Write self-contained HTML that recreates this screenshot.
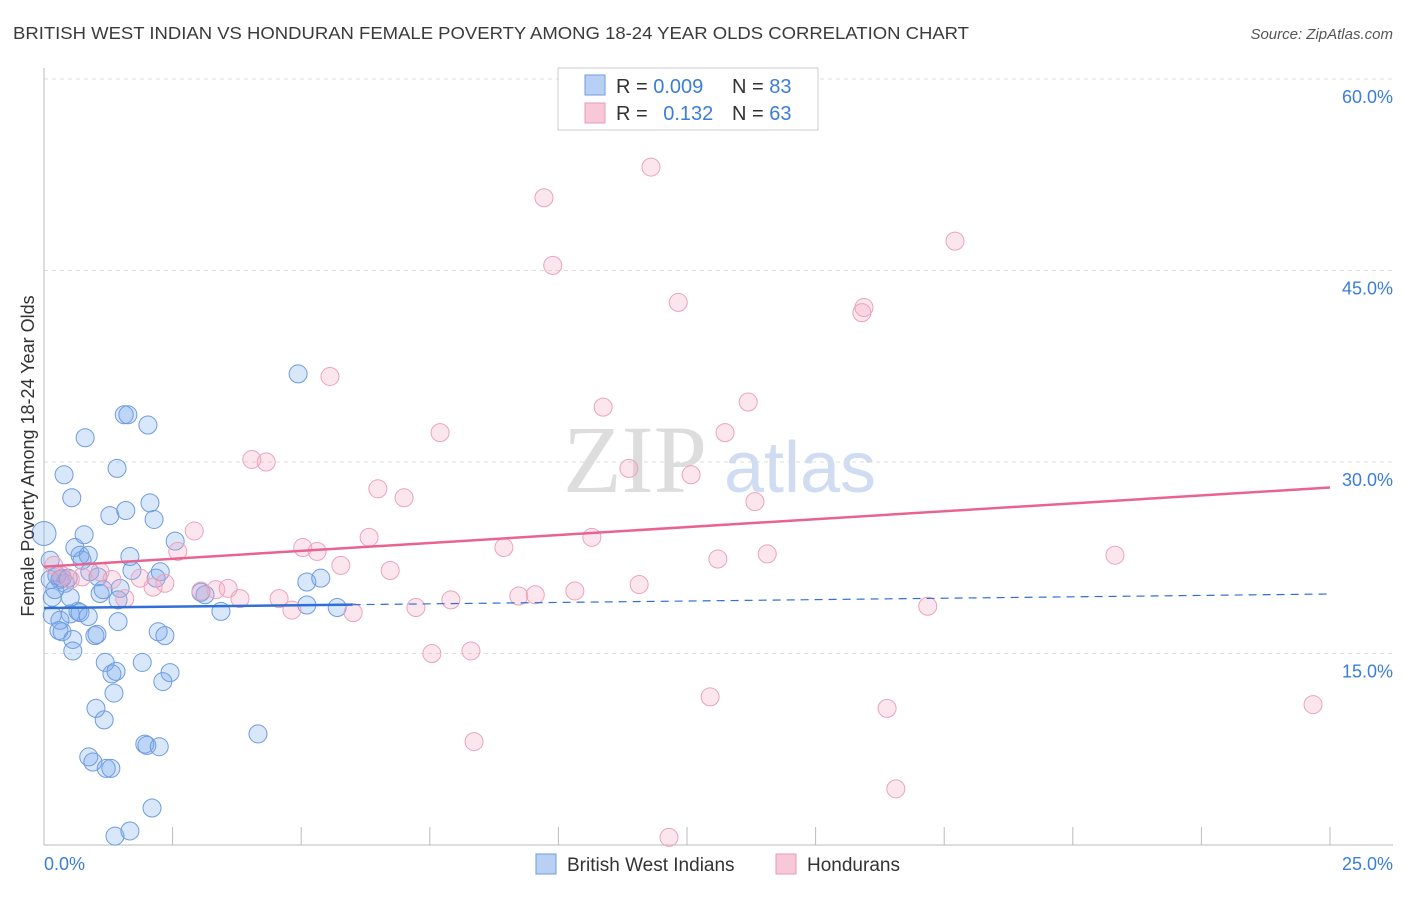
<!DOCTYPE html>
<html><head><meta charset="utf-8"><style>
body{margin:0;background:#fff;font-family:"Liberation Sans",sans-serif;}
svg text{font-family:"Liberation Sans",sans-serif;}
</style></head><body>
<svg id="chart" width="1406" height="892" viewBox="0 0 1406 892">
<text x="13" y="39" font-size="17.5" fill="#3a3a3a" textLength="956" lengthAdjust="spacingAndGlyphs">BRITISH WEST INDIAN VS HONDURAN FEMALE POVERTY AMONG 18-24 YEAR OLDS CORRELATION CHART</text>
<text x="1393" y="39" font-size="15" fill="#555" font-style="italic" text-anchor="end">Source: ZipAtlas.com</text>
<g>
<text x="635" y="492" font-size="96" fill="#ddd" text-anchor="middle" font-family="Liberation Serif" style="font-family:'Liberation Serif',serif">ZIP</text>
<text x="800" y="492" font-size="72" fill="#cfdcf2" text-anchor="middle">atlas</text>
</g>
<g id="grid"></g>
<g id="axes"></g>
<g id="marks"></g>
<text transform="translate(34,456) rotate(-90)" font-size="18" fill="#333" text-anchor="middle">Female Poverty Among 18-24 Year Olds</text>
<g>
<rect x="558" y="68" width="260" height="62" fill="#fff" stroke="#ccc"/>
<rect x="585" y="75" width="20" height="20" fill="#b8d0f4" stroke="#6f9be0"/>
<text x="616" y="93" font-size="20" fill="#333">R = <tspan fill="#3b7dd8">0.009</tspan></text>
<text x="732" y="93" font-size="20" fill="#333">N = <tspan fill="#3b7dd8">83</tspan></text>
<rect x="585" y="103" width="20" height="20" fill="#f8c8d8" stroke="#e89ab4"/>
<text x="616" y="120" font-size="20" fill="#333">R = <tspan fill="#3b7dd8" dx="10">0.132</tspan></text>
<text x="732" y="120" font-size="20" fill="#333">N = <tspan fill="#3b7dd8">63</tspan></text>
</g>
<g>
<rect x="536" y="854" width="20" height="20" fill="#b8d0f4" stroke="#6f9be0"/>
<text x="567" y="871" font-size="19" fill="#333">British West Indians</text>
<rect x="776" y="854" width="20" height="20" fill="#f8c8d8" stroke="#e89ab4"/>
<text x="807" y="871" font-size="19" fill="#333">Hondurans</text>
</g>
</svg>
<script>
const blueX=[0,0.12,0.12,0.16,0.21,0.25,0.31,0.35,0.41,0.47,0.39,0.54,0.80,0.78,0.60,0.70,0.86,0.74,0.89,1.05,1.09,1.15,0.51,0.66,0.51,0.70,0.86,0.99,1.03,0.29,0.35,0.56,0.56,0.16,0.31,1.28,1.59,1.42,1.56,1.63,2.02,2.06,2.14,1.67,1.71,1.48,1.44,1.44,2.26,2.18,2.55,3.05,3.44,2.22,2.35,1.19,1.32,1.40,1.36,1.01,1.17,1.91,2.45,2.31,0.87,0.95,1.21,1.30,1.96,2.00,2.24,2.10,1.38,1.67,4.16,4.94,5.11,5.38,5.11,5.70,3.13];
const blueY=[24.4,22.3,20.8,19.4,20.0,21.1,20.8,20.9,20.5,20.9,29.0,27.2,31.9,24.3,23.3,22.7,22.7,22.3,21.4,21.0,19.7,20.0,19.4,18.3,18.1,18.2,17.9,16.4,16.5,16.8,16.7,16.1,15.2,18.0,17.6,25.8,26.2,29.5,33.7,33.7,32.9,26.8,25.5,22.6,21.5,20.1,19.2,17.5,21.4,20.9,23.8,19.8,18.3,16.7,16.4,14.3,13.4,13.6,11.9,10.7,9.8,14.3,13.5,12.8,6.9,6.5,6.0,6.0,7.9,7.8,7.7,2.9,0.7,1.1,8.7,36.9,20.6,20.9,18.8,18.6,19.6];
const pinkX=[11.80,9.72,9.89,17.71,12.33,15.94,15.90,5.56,10.87,13.69,7.70,13.24,4.04,4.32,6.49,7.00,11.37,12.58,13.82,2.92,2.60,5.03,5.31,5.77,6.32,6.73,8.94,10.65,14.06,13.10,20.82,0.19,0.35,0.51,0.74,1.09,1.32,1.87,2.12,2.35,3.05,3.34,3.58,3.81,4.57,4.82,6.01,7.23,7.91,9.23,9.55,10.32,11.57,17.18,7.54,8.30,12.95,16.39,24.67,8.36,16.56,12.15,1.57];
const pinkY=[53.1,50.7,45.4,47.3,42.5,42.1,41.7,36.7,34.3,34.7,32.3,32.3,30.2,30.0,27.9,27.2,29.5,29.0,26.9,24.6,23.0,23.3,23.0,21.9,24.1,21.5,23.3,24.1,22.8,22.4,22.7,21.9,21.1,20.8,21.0,21.4,20.8,20.9,20.2,20.5,19.9,20.0,20.1,19.3,19.3,18.4,18.2,18.6,19.2,19.5,19.6,19.9,20.4,18.7,15.0,15.2,11.6,10.7,11.0,8.1,4.4,0.6,19.3];
const blueTrend=[18.56,19.66];
const pinkTrend=[21.8,28.0];
const yTicks=[15,30,45,60];
const NS="http://www.w3.org/2000/svg";
const X0=44,X1=1330,Y0=845,Y1=79;
function sx(v){return X0+(X1-X0)*v/25;}
function sy(v){return Y0-(Y0-Y1)*v/60;}
function mk(t,a,p){const e=document.createElementNS(NS,t);for(const k in a)e.setAttribute(k,a[k]);p.appendChild(e);return e;}
const grid=document.getElementById('grid'),axes=document.getElementById('axes'),marks=document.getElementById('marks');
yTicks.forEach(t=>{
const l=mk('line',{x1:X0,x2:1393,y1:sy(t),y2:sy(t),stroke:'#ddd','stroke-dasharray':'4,4'},grid);


const tx=mk('text',{x:1393,y:sy(t)+24,'font-size':18,fill:'#3b7dd8','text-anchor':'end'},axes);
tx.textContent=t.toFixed(1)+'%';


});
const ax=mk('line',{x1:X0,x2:X0,y1:68,y2:Y0,stroke:'#bbb'},axes);


const bx=mk('line',{x1:X0,x2:1393,y1:Y0,y2:Y0,stroke:'#bbb'},axes);


for(let i=1;i<=10;i++){
const t=mk('line',{x1:sx(i*2.5),x2:sx(i*2.5),y1:Y0-18,y2:Y0,stroke:'#bbb'},axes);


}
[[0,X0,'start'],[25,1393,'end']].forEach(d=>{
const t=mk('text',{x:d[1],y:870,'font-size':18,fill:'#3b7dd8','text-anchor':d[2]},axes);
t.textContent=d[0].toFixed(1)+'%';


});
blueX.forEach((v,i)=>{
const c=mk('circle',{cx:sx(v),cy:sy(blueY[i]),r:i===0?12:9,fill:'rgba(120,168,238,0.28)',stroke:'#6f9be0','stroke-width':1},marks);


});
pinkX.forEach((v,i)=>{
const c=mk('circle',{cx:sx(v),cy:sy(pinkY[i]),r:9,fill:'rgba(245,165,195,0.28)',stroke:'#eba3bd','stroke-width':1},marks);


});
const bAt=x=>blueTrend[0]+(blueTrend[1]-blueTrend[0])*x/25;
const l1=mk('line',{x1:sx(0),y1:sy(bAt(0)),x2:sx(6),y2:sy(bAt(6)),stroke:'#2f6fd6','stroke-width':2.5},marks);


const l2=mk('line',{x1:sx(6),y1:sy(bAt(6)),x2:sx(25),y2:sy(bAt(25)),stroke:'#2f6fd6','stroke-width':1.2,'stroke-dasharray':'8,6'},marks);


const l3=mk('line',{x1:sx(0),y1:sy(pinkTrend[0]),x2:sx(25),y2:sy(pinkTrend[1]),stroke:'#e8638f','stroke-width':2.5},marks);


</script>
</body></html>
